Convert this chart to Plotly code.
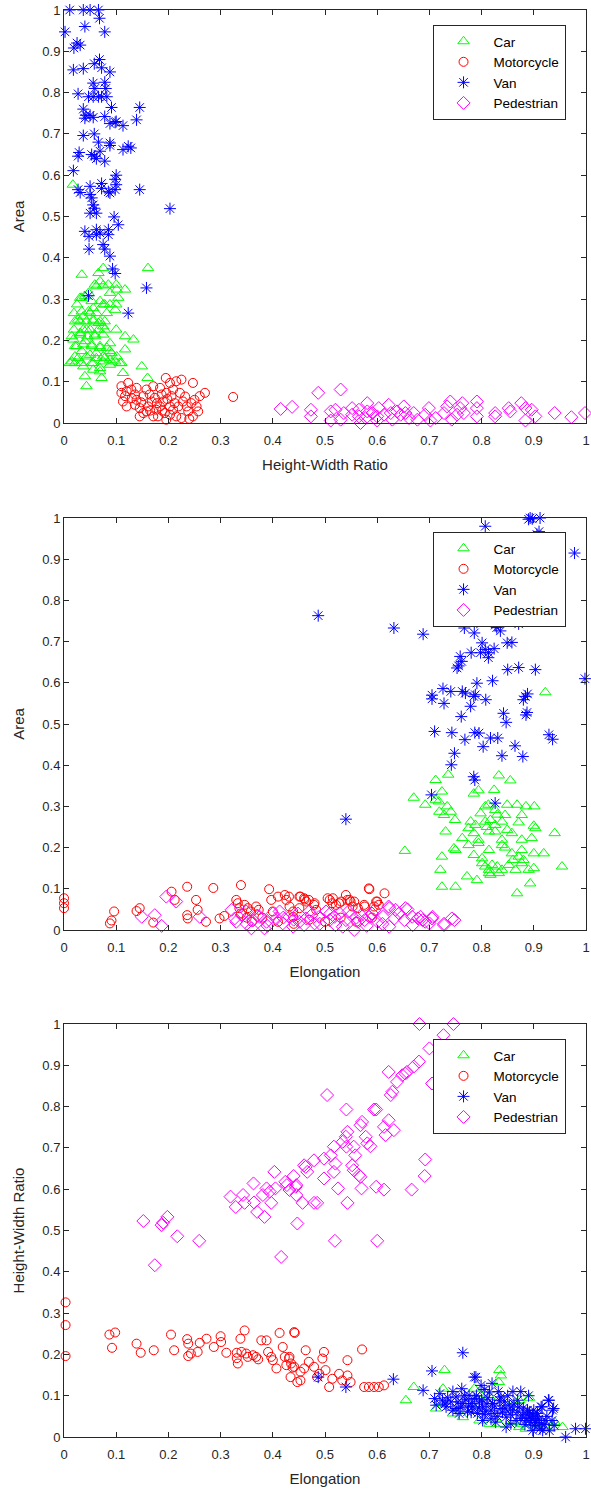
import plotly.graph_objects as go

# ---------------- Panel 1: Height-Width Ratio (x) vs Area (y) ----------------
P1_CAR = [(0.017,0.577),(0.034,0.359),(0.066,0.363),(0.069,0.343),(0.075,0.375),(0.161,0.375),
(0.059,0.335),(0.062,0.331),(0.075,0.333),(0.085,0.335),(0.100,0.335),(0.117,0.323),(0.034,0.303),
(0.040,0.307),(0.047,0.315),(0.025,0.287),(0.053,0.295),(0.069,0.295),(0.075,0.287),(0.088,0.287),
(0.104,0.303),(0.100,0.287),(0.019,0.266),(0.034,0.270),(0.047,0.270),(0.062,0.266),(0.082,0.266),
(0.098,0.274),(0.021,0.246),(0.031,0.246),(0.043,0.246),(0.056,0.246),(0.069,0.246),(0.078,0.246),
(0.019,0.226),(0.037,0.226),(0.050,0.226),(0.066,0.226),(0.078,0.226),(0.100,0.226),(0.015,0.210),
(0.031,0.214),(0.045,0.210),(0.059,0.210),(0.075,0.214),(0.088,0.193),(0.117,0.210),(0.133,0.202),
(0.021,0.186),(0.037,0.190),(0.053,0.186),(0.069,0.186),(0.082,0.182),(0.117,0.178),(0.015,0.149),
(0.027,0.157),(0.043,0.161),(0.062,0.157),(0.078,0.157),(0.091,0.169),(0.011,0.145),(0.021,0.145),
(0.034,0.145),(0.053,0.145),(0.075,0.149),(0.088,0.141),(0.098,0.149),(0.110,0.145),(0.113,0.121),
(0.149,0.137),(0.040,0.113),(0.043,0.089),(0.072,0.109),(0.160,0.109),(0.056,0.129),(0.069,0.125),
(0.027,0.250),(0.037,0.258),(0.050,0.266),(0.056,0.250),(0.066,0.242),(0.075,0.234),(0.031,0.218),
(0.043,0.226),(0.059,0.214),(0.018,0.202),(0.040,0.198),(0.053,0.190),(0.069,0.182),(0.024,0.186),
(0.034,0.174),(0.021,0.161),(0.050,0.165),(0.062,0.169),(0.075,0.161),(0.088,0.153),(0.056,0.145),
(0.037,0.137),(0.069,0.133),(0.088,0.174),(0.101,0.161),(0.107,0.145),(0.056,0.278),(0.078,0.287),
(0.031,0.303),(0.088,0.315),(0.101,0.323)]

P1_MOTO = [(0.123,0.097),(0.120,0.077),(0.117,0.065),(0.113,0.052),(0.120,0.040),(0.129,0.081),
(0.136,0.069),(0.139,0.056),(0.136,0.044),(0.145,0.036),(0.152,0.024),(0.158,0.081),(0.164,0.069),
(0.171,0.089),(0.168,0.052),(0.161,0.040),(0.177,0.032),(0.171,0.016),(0.184,0.085),(0.187,0.069),
(0.190,0.052),(0.184,0.040),(0.193,0.024),(0.196,0.008),(0.195,0.109),(0.203,0.097),(0.209,0.081),
(0.206,0.065),(0.212,0.048),(0.209,0.032),(0.203,0.020),(0.215,0.016),(0.215,0.101),(0.225,0.105),
(0.222,0.073),(0.228,0.052),(0.235,0.040),(0.238,0.028),(0.244,0.048),(0.247,0.016),(0.247,0.097),
(0.254,0.040),(0.257,0.028),(0.250,0.056),(0.260,0.065),(0.270,0.073),(0.324,0.063),(0.139,0.085),
(0.152,0.065),(0.174,0.061),(0.196,0.073),(0.219,0.040),(0.158,0.028),(0.145,0.016),(0.180,0.016),
(0.203,0.040),(0.225,0.012),(0.110,0.073),(0.110,0.089),(0.130,0.060),(0.148,0.050),(0.178,0.048),
(0.198,0.058),(0.232,0.064),(0.165,0.030),(0.188,0.030),(0.240,0.010)]

P1_VAN = [(0.011,1.0),(0.037,1.0),(0.050,1.0),(0.066,1.0),(0.068,0.980),(0.002,0.947),(0.040,0.960),
(0.078,0.947),(0.025,0.920),(0.019,0.908),(0.031,0.915),(0.018,0.855),(0.037,0.858),(0.058,0.870),
(0.068,0.880),(0.072,0.860),(0.088,0.850),(0.027,0.797),(0.056,0.823),(0.059,0.810),(0.078,0.825),
(0.080,0.810),(0.047,0.790),(0.056,0.790),(0.066,0.790),(0.072,0.790),(0.082,0.790),(0.037,0.760),
(0.042,0.745),(0.040,0.738),(0.050,0.745),(0.056,0.740),(0.091,0.764),(0.078,0.742),(0.088,0.725),
(0.098,0.728),(0.100,0.730),(0.113,0.720),(0.145,0.764),(0.139,0.734),(0.037,0.696),(0.058,0.700),
(0.066,0.680),(0.069,0.658),(0.088,0.678),(0.088,0.672),(0.029,0.655),(0.027,0.646),(0.053,0.650),
(0.058,0.646),(0.062,0.640),(0.078,0.634),(0.113,0.662),(0.123,0.670),(0.128,0.666),(0.018,0.611),
(0.100,0.600),(0.098,0.590),(0.100,0.577),(0.027,0.565),(0.031,0.558),(0.050,0.573),(0.050,0.553),
(0.053,0.545),(0.072,0.580),(0.072,0.568),(0.085,0.560),(0.088,0.557),(0.098,0.565),(0.145,0.565),
(0.203,0.519),(0.056,0.528),(0.058,0.520),(0.062,0.508),(0.050,0.508),(0.096,0.499),(0.104,0.480),
(0.040,0.464),(0.048,0.452),(0.062,0.468),(0.062,0.456),(0.069,0.460),(0.085,0.468),(0.085,0.456),
(0.048,0.421),(0.075,0.432),(0.078,0.421),(0.088,0.404),(0.093,0.373),(0.098,0.362),(0.158,0.327),
(0.123,0.266),(0.047,0.308)]

P1_PED = [(0.415,0.034),(0.437,0.039),(0.473,0.032),(0.473,0.016),(0.487,0.073),(0.530,0.081),
(0.511,0.028),(0.520,0.032),(0.530,0.008),(0.511,0.006),(0.536,0.024),(0.552,0.036),(0.552,0.020),
(0.565,0.032),(0.565,0.016),(0.568,0.000),(0.581,0.048),(0.581,0.028),(0.578,0.012),(0.591,0.024),
(0.600,0.016),(0.600,0.006),(0.603,0.036),(0.613,0.020),(0.622,0.044),(0.626,0.024),(0.629,0.008),
(0.638,0.028),(0.645,0.020),(0.651,0.040),(0.654,0.024),(0.661,0.012),(0.670,0.024),(0.677,0.008),
(0.692,0.020),(0.699,0.036),(0.702,0.006),(0.712,0.012),(0.728,0.024),(0.734,0.040),(0.740,0.052),
(0.743,0.008),(0.753,0.020),(0.759,0.036),(0.763,0.048),(0.766,0.024),(0.791,0.052),(0.791,0.036),
(0.791,0.016),(0.826,0.024),(0.826,0.016),(0.852,0.036),(0.855,0.028),(0.876,0.048),(0.884,0.036),
(0.884,0.006),(0.896,0.032),(0.903,0.016),(0.940,0.024),(0.972,0.014),(0.998,0.024)]

# ---------------- Panel 2: Elongation (x) vs Area (y) ----------------
P2_CAR = [(0.922,0.577),(0.712,0.364),(0.736,0.377),(0.833,0.375),(0.855,0.363),(0.785,0.331),
(0.794,0.339),(0.824,0.340),(0.670,0.321),(0.692,0.304),(0.712,0.316),(0.724,0.336),(0.718,0.312),
(0.719,0.287),(0.734,0.300),(0.741,0.287),(0.728,0.279),(0.749,0.267),(0.798,0.283),(0.807,0.300),
(0.813,0.304),(0.826,0.291),(0.849,0.304),(0.868,0.304),(0.885,0.300),(0.901,0.300),(0.779,0.263),
(0.788,0.255),(0.807,0.263),(0.817,0.267),(0.826,0.255),(0.839,0.263),(0.845,0.279),(0.849,0.243),
(0.871,0.261),(0.877,0.279),(0.900,0.253),(0.903,0.247),(0.731,0.239),(0.763,0.223),(0.775,0.247),
(0.785,0.235),(0.794,0.219),(0.814,0.239),(0.826,0.239),(0.839,0.219),(0.858,0.235),(0.877,0.219),
(0.896,0.223),(0.940,0.235),(0.653,0.192),(0.747,0.198),(0.750,0.194),(0.775,0.206),(0.794,0.211),
(0.814,0.194),(0.839,0.206),(0.858,0.186),(0.871,0.178),(0.877,0.194),(0.900,0.186),(0.919,0.186),
(0.724,0.178),(0.721,0.146),(0.785,0.182),(0.801,0.174),(0.807,0.154),(0.814,0.146),(0.820,0.158),
(0.830,0.154),(0.839,0.146),(0.852,0.158),(0.865,0.146),(0.877,0.162),(0.890,0.146),(0.900,0.150),
(0.954,0.154),(0.801,0.162),(0.814,0.138),(0.833,0.138),(0.724,0.105),(0.750,0.105),(0.772,0.130),
(0.791,0.121),(0.817,0.134),(0.868,0.089),(0.893,0.113),(0.860,0.170),(0.880,0.170),(0.845,0.200),
(0.810,0.250),(0.830,0.280)]

P2_MOTO = [(0.000,0.077),(0.000,0.065),(0.000,0.053),(0.088,0.016),(0.091,0.023),(0.096,0.045),
(0.139,0.046),(0.145,0.053),(0.171,0.018),(0.206,0.093),(0.212,0.073),(0.236,0.105),(0.236,0.036),
(0.237,0.028),(0.253,0.073),(0.256,0.049),(0.272,0.020),(0.286,0.102),(0.298,0.028),(0.307,0.034),
(0.339,0.109),(0.330,0.073),(0.333,0.065),(0.336,0.053),(0.339,0.040),(0.346,0.061),(0.352,0.053),
(0.358,0.045),(0.368,0.057),(0.373,0.049),(0.393,0.099),(0.397,0.073),(0.410,0.081),(0.423,0.085),
(0.426,0.073),(0.432,0.057),(0.439,0.045),(0.451,0.081),(0.461,0.074),(0.464,0.069),(0.480,0.065),
(0.483,0.049),(0.451,0.053),(0.439,0.032),(0.505,0.077),(0.509,0.073),(0.515,0.077),(0.521,0.061),
(0.531,0.069),(0.540,0.085),(0.547,0.073),(0.553,0.057),(0.556,0.069),(0.563,0.053),(0.576,0.057),
(0.585,0.099),(0.598,0.069),(0.603,0.061),(0.614,0.089),(0.431,0.081),(0.453,0.081),(0.460,0.077),
(0.469,0.073),(0.479,0.061),(0.514,0.065),(0.527,0.065),(0.543,0.073),(0.549,0.069),(0.584,0.101),
(0.575,0.061),(0.600,0.069),(0.594,0.057),(0.360,0.020),(0.380,0.030),(0.410,0.020),(0.440,0.015),
(0.470,0.025),(0.500,0.020),(0.530,0.030),(0.560,0.020),(0.590,0.030),(0.400,0.045),(0.350,0.030)]

P2_VAN = [(0.893,1.000),(0.897,0.998),(0.912,1.000),(0.890,0.997),(0.807,0.980),(0.906,0.960),
(0.978,0.915),(0.998,0.610),(0.487,0.763),(0.632,0.733),(0.688,0.718),(0.540,0.269),(0.767,0.733),
(0.791,0.747),(0.786,0.721),(0.826,0.740),(0.829,0.734),(0.836,0.726),(0.851,0.757),(0.871,0.743),
(0.801,0.697),(0.780,0.673),(0.798,0.673),(0.807,0.681),(0.813,0.673),(0.813,0.661),(0.824,0.683),
(0.849,0.697),(0.858,0.698),(0.759,0.664),(0.762,0.652),(0.756,0.641),(0.753,0.636),(0.850,0.632),
(0.871,0.637),(0.903,0.632),(0.821,0.605),(0.705,0.570),(0.705,0.561),(0.726,0.586),(0.728,0.550),
(0.741,0.579),(0.763,0.579),(0.769,0.575),(0.785,0.567),(0.788,0.571),(0.791,0.599),(0.808,0.559),
(0.779,0.543),(0.880,0.559),(0.884,0.567),(0.888,0.573),(0.761,0.518),(0.842,0.526),(0.710,0.482),
(0.887,0.528),(0.885,0.522),(0.847,0.504),(0.743,0.479),(0.768,0.462),(0.787,0.479),(0.795,0.478),
(0.817,0.466),(0.831,0.466),(0.803,0.445),(0.864,0.447),(0.929,0.474),(0.936,0.463),(0.748,0.429),
(0.839,0.423),(0.879,0.421),(0.742,0.401),(0.785,0.372),(0.787,0.364),(0.704,0.328),(0.826,0.308),
(0.910,0.967)]

P2_PED = [(0.196,0.081),(0.215,0.069),(0.149,0.032),(0.174,0.036),(0.187,0.010),(0.260,0.032),
(0.321,0.049),(0.327,0.028),(0.330,0.020),(0.340,0.036),(0.349,0.045),(0.359,0.004),(0.362,0.024),
(0.375,0.032),(0.384,0.004),(0.388,0.020),(0.400,0.040),(0.407,0.028),(0.413,0.045),(0.419,0.016),
(0.432,0.032),(0.439,0.008),(0.448,0.040),(0.451,0.020),(0.464,0.028),(0.474,0.036),(0.480,0.016),
(0.489,0.032),(0.502,0.045),(0.509,0.024),(0.518,0.032),(0.528,0.040),(0.534,0.008),(0.540,0.024),
(0.550,0.036),(0.556,0.000),(0.563,0.020),(0.569,0.036),(0.576,0.024),(0.585,0.032),(0.595,0.049),
(0.601,0.020),(0.611,0.032),(0.623,0.008),(0.623,0.053),(0.633,0.028),(0.642,0.040),(0.652,0.024),
(0.658,0.050),(0.668,0.012),(0.678,0.028),(0.687,0.024),(0.700,0.016),(0.706,0.032),(0.728,0.012),
(0.748,0.024),(0.622,0.057),(0.635,0.049),(0.654,0.053),(0.667,0.032),(0.683,0.032),(0.692,0.020),
(0.705,0.028),(0.728,0.015),(0.743,0.028),(0.350,0.015),(0.370,0.035),(0.390,0.010),(0.420,0.030),
(0.440,0.025),(0.460,0.012),(0.470,0.045),(0.490,0.015),(0.510,0.040),(0.520,0.012),(0.545,0.045),
(0.560,0.030),(0.580,0.010),(0.590,0.040),(0.610,0.015)]

# ---------------- Panel 3: Elongation (x) vs Height-Width Ratio (y) ----------------
P3_CAR = [(0.655,0.089),(0.670,0.121),(0.729,0.162),(0.726,0.117),(0.834,0.162),(0.837,0.149),
(0.833,0.133),(0.786,0.117),(0.891,0.095),(0.872,0.089),(0.955,0.024),(0.940,0.036),(0.713,0.069),
(0.719,0.085),(0.796,0.040),(0.815,0.032),(0.834,0.032),(0.859,0.036),(0.872,0.024),(0.885,0.020),
(0.904,0.024),(0.923,0.023),(0.936,0.024),(0.910,0.032),(0.878,0.032),(0.764,0.048),(0.745,0.057),
(0.853,0.073),(0.815,0.097),(0.796,0.105),(0.783,0.073)]

P3_MOTO = [(0.003,0.326),(0.003,0.271),(0.003,0.196),(0.087,0.248),(0.098,0.253),(0.092,0.216),
(0.139,0.226),(0.147,0.204),(0.172,0.210),(0.205,0.248),(0.211,0.210),(0.236,0.237),(0.238,0.226),
(0.238,0.196),(0.243,0.202),(0.256,0.206),(0.260,0.228),(0.273,0.238),(0.287,0.218),(0.300,0.244),
(0.301,0.230),(0.311,0.204),(0.338,0.238),(0.346,0.258),(0.331,0.204),(0.331,0.191),(0.333,0.178),
(0.340,0.206),(0.349,0.202),(0.352,0.194),(0.362,0.198),(0.368,0.194),(0.372,0.188),(0.378,0.234),
(0.388,0.234),(0.391,0.206),(0.397,0.194),(0.400,0.186),(0.407,0.166),(0.413,0.252),(0.419,0.218),
(0.423,0.194),(0.426,0.174),(0.432,0.194),(0.435,0.178),(0.438,0.168),(0.442,0.252),(0.447,0.133),
(0.431,0.190),(0.441,0.170),(0.453,0.158),(0.453,0.137),(0.460,0.166),(0.463,0.210),(0.469,0.182),
(0.479,0.170),(0.489,0.153),(0.495,0.190),(0.498,0.206),(0.501,0.162),(0.508,0.121),(0.514,0.141),
(0.527,0.153),(0.533,0.137),(0.543,0.186),(0.543,0.149),(0.549,0.133),(0.571,0.212),(0.575,0.121),
(0.584,0.121),(0.594,0.121),(0.603,0.121),(0.613,0.125),(0.441,0.254),(0.434,0.145),(0.485,0.145)]

P3_VAN = [(0.487,0.145),(0.540,0.121),(0.631,0.140),(0.688,0.113),(0.705,0.160),(0.764,0.204),
(0.786,0.145),(0.710,0.093),(0.713,0.077),(0.725,0.089),(0.732,0.073),(0.741,0.085),(0.751,0.069),
(0.757,0.057),(0.762,0.117),(0.767,0.101),(0.776,0.101),(0.786,0.093),(0.789,0.145),(0.799,0.125),
(0.796,0.085),(0.802,0.073),(0.808,0.061),(0.815,0.109),(0.821,0.081),(0.824,0.057),(0.834,0.089),
(0.837,0.069),(0.843,0.085),(0.847,0.048),(0.853,0.077),(0.859,0.065),(0.866,0.040),(0.872,0.073),
(0.878,0.053),(0.888,0.065),(0.891,0.048),(0.894,0.036),(0.898,0.053),(0.901,0.028),(0.904,0.040),
(0.907,0.057),(0.910,0.044),(0.915,0.032),(0.917,0.016),(0.923,0.040),(0.929,0.089),(0.936,0.065),
(0.939,0.028),(0.961,0.000),(0.980,0.020),(0.999,0.020),(0.751,0.097),(0.764,0.081),(0.773,0.061),
(0.783,0.073),(0.792,0.057),(0.802,0.040),(0.818,0.044),(0.827,0.036),(0.847,0.024),(0.856,0.032),
(0.885,0.040),(0.898,0.016),(0.914,0.073),(0.869,0.089),(0.837,0.097),(0.780,0.081),(0.916,0.073),
(0.938,0.069),(0.928,0.089),(0.720,0.105),(0.735,0.095),(0.745,0.110),(0.755,0.085),(0.760,0.072),
(0.770,0.090),(0.775,0.075),(0.780,0.060),(0.790,0.100),(0.795,0.070),(0.800,0.090),(0.805,0.055),
(0.810,0.080),(0.812,0.095),(0.818,0.065),(0.825,0.075),(0.830,0.050),(0.832,0.110),(0.840,0.060),
(0.845,0.070),(0.850,0.100),(0.855,0.055),(0.862,0.080),(0.868,0.060),(0.875,0.045),(0.880,0.070),
(0.883,0.030),(0.887,0.055),(0.892,0.060),(0.895,0.045),(0.900,0.065),(0.903,0.035),(0.906,0.050),
(0.912,0.020),(0.920,0.030),(0.925,0.050),(0.930,0.015),(0.935,0.040),(0.805,0.115),(0.820,0.130),
(0.860,0.110),(0.875,0.110),(0.890,0.100),(0.745,0.065),(0.730,0.080)]

P3_PED = [(0.152,0.523),(0.174,0.416),(0.187,0.513),(0.190,0.519),(0.198,0.533),(0.217,0.486),
(0.259,0.475),(0.319,0.582),(0.329,0.557),(0.343,0.586),(0.346,0.567),(0.363,0.614),(0.364,0.568),
(0.370,0.545),(0.384,0.533),(0.381,0.586),(0.388,0.602),(0.397,0.567),(0.394,0.594),(0.403,0.642),
(0.405,0.602),(0.416,0.436),(0.424,0.618),(0.427,0.610),(0.432,0.598),(0.440,0.632),(0.445,0.610),
(0.445,0.586),(0.447,0.517),(0.444,0.606),(0.457,0.567),(0.460,0.658),(0.463,0.654),(0.466,0.642),
(0.479,0.670),(0.479,0.567),(0.485,0.567),(0.498,0.674),(0.498,0.626),(0.504,0.828),(0.511,0.682),
(0.520,0.662),(0.517,0.642),(0.517,0.703),(0.525,0.602),(0.519,0.475),(0.534,0.715),(0.540,0.727),
(0.543,0.739),(0.541,0.793),(0.541,0.703),(0.543,0.567),(0.555,0.703),(0.552,0.658),(0.555,0.646),
(0.565,0.634),(0.568,0.630),(0.570,0.602),(0.558,0.682),(0.568,0.755),(0.571,0.763),(0.578,0.727),
(0.581,0.711),(0.587,0.704),(0.594,0.793),(0.598,0.793),(0.598,0.606),(0.600,0.475),(0.613,0.751),
(0.616,0.731),(0.622,0.767),(0.632,0.743),(0.613,0.599),(0.622,0.884),(0.626,0.828),(0.629,0.836),
(0.638,0.860),(0.648,0.876),(0.654,0.880),(0.657,0.884),(0.670,0.897),(0.680,0.909),(0.666,0.599),
(0.692,0.672),(0.691,0.632),(0.700,0.941),(0.705,0.856),(0.681,1.000),(0.746,1.000),(0.727,0.973)]

CLASS_NAMES = ["Car", "Motorcycle", "Van", "Pedestrian"]
AXIS_TITLES = [("Height-Width Ratio", "Area"), ("Elongation", "Area"), ("Elongation", "Height-Width Ratio")]

PANELS = [
    [P1_CAR, P1_MOTO, P1_VAN, P1_PED],
    [P2_CAR, P2_MOTO, P2_VAN, P2_PED],
    [P3_CAR, P3_MOTO, P3_VAN, P3_PED],
]

STYLES = [
    dict(symbol="triangle-up-open", color="#00ff00", size=10),
    dict(symbol="circle-open", color="#ff0000", size=9),
    dict(symbol="asterisk-open", color="#0000ff", size=10),
    dict(symbol="diamond-open", color="#ff00ff", size=10),
]

FONT = "Liberation Sans, Arial, Helvetica, sans-serif"
AX_COLOR = "#262626"

fig = go.Figure()
legend_keys = ["legend", "legend2", "legend3"]
for p, panel in enumerate(PANELS):
    xa = "x" if p == 0 else f"x{p+1}"
    ya = "y" if p == 0 else f"y{p+1}"
    for c, pts in enumerate(panel):
        st = STYLES[c]
        fig.add_trace(go.Scatter(
            x=[v[0] for v in pts], y=[v[1] for v in pts],
            mode="markers", name=CLASS_NAMES[c],
            xaxis=xa, yaxis=ya, legend=legend_keys[p],
            cliponaxis=False,
            marker=dict(symbol=st["symbol"], size=st["size"], color=st["color"],
                        line=dict(color=st["color"], width=1)),
        ))

domains = [[0.7106, 1.0], [0.3553, 0.6440], [0.0, 0.2894]]
legend_tops = [0.9895, 0.6342, 0.2789]

def axis_common():
    return dict(range=[0, 1], tick0=0, dtick=0.1, ticks="inside", ticklen=5,
                tickcolor=AX_COLOR, showline=True, linecolor=AX_COLOR, linewidth=1,
                mirror="allticks", showgrid=False, zeroline=False, automargin=False,
                tickfont=dict(family=FONT, size=13, color=AX_COLOR))

layout = dict(
    width=591, height=1493,
    margin=dict(l=64, r=5, t=10, b=56),
    paper_bgcolor="white", plot_bgcolor="white",
    font=dict(family=FONT, color=AX_COLOR),
)
for p in range(3):
    xk = "xaxis" if p == 0 else f"xaxis{p+1}"
    yk = "yaxis" if p == 0 else f"yaxis{p+1}"
    xa = axis_common()
    xa.update(domain=[0, 1], anchor="y" if p == 0 else f"y{p+1}", ticklabelstandoff=5,
              title=dict(text=AXIS_TITLES[p][0], font=dict(family=FONT, size=15, color=AX_COLOR), standoff=12))
    ya = axis_common()
    ya.update(domain=domains[p], anchor="x" if p == 0 else f"x{p+1}",
              title=dict(text=AXIS_TITLES[p][1], font=dict(family=FONT, size=15, color=AX_COLOR), standoff=14))
    layout[xk] = xa
    layout[yk] = ya
    layout[legend_keys[p]] = dict(
        x=0.706, y=legend_tops[p], xanchor="left", yanchor="top",
        bgcolor="white", bordercolor=AX_COLOR, borderwidth=1,
        font=dict(family=FONT, size=13.5, color="#000000"),
        itemwidth=50, tracegroupgap=0,
    )

fig.update_layout(**layout)
fig.write_html(
    "out.html",
    config={"displayModeBar": False},
    post_script="document.body.style.margin='0';document.body.style.padding='0';document.body.style.overflow='hidden';",
)
